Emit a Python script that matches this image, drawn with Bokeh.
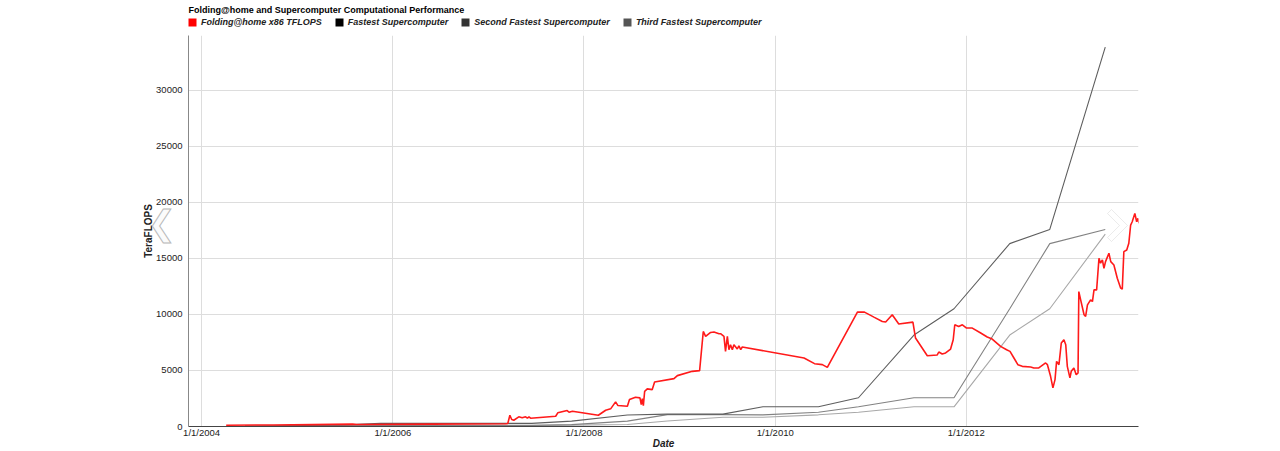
import pandas as pd
from bokeh.plotting import figure
from bokeh.layouts import column
from bokeh.models import Range1d, FixedTicker, Legend, LegendItem, PolyAnnotation, Label
from bokeh.embed import file_html
from bokeh.resources import INLINE

# ---------------- data ----------------
fah_dates = [
    "2004-04-04", "2004-10-01", "2005-03-01", "2005-07-31", "2005-08-15", "2006-06-01",
    "2007-03-08", "2007-03-16", "2007-03-24", "2007-03-31", "2007-04-08", "2007-04-27",
    "2007-05-10", "2007-05-23", "2007-05-30", "2007-06-05", "2007-06-11", "2007-09-15",
    "2007-09-23", "2007-10-29", "2007-11-05", "2007-11-18", "2008-02-25", "2008-03-24",
    "2008-04-12", "2008-05-01", "2008-05-10", "2008-06-15", "2008-06-23", "2008-07-16",
    "2008-08-02", "2008-08-07", "2008-08-11", "2008-08-15", "2008-08-20", "2008-08-30",
    "2008-09-18", "2008-09-27", "2008-12-10", "2008-12-23", "2009-02-18", "2009-03-18",
    "2009-04-01", "2009-04-10", "2009-04-29", "2009-05-12", "2009-05-31", "2009-06-06",
    "2009-06-19", "2009-06-25", "2009-07-02", "2009-07-08", "2009-07-14", "2009-07-21",
    "2009-07-27", "2009-08-09", "2009-08-15", "2009-08-22", "2009-08-28", "2010-04-21",
    "2010-05-31", "2010-06-30", "2010-07-19", "2010-11-11", "2010-12-08", "2011-01-13",
    "2011-02-14", "2011-02-27", "2011-03-24", "2011-04-18", "2011-06-11", "2011-06-21",
    "2011-08-05", "2011-09-12", "2011-09-18", "2011-10-01", "2011-10-14", "2011-11-02",
    "2011-11-12", "2011-11-18", "2011-12-03", "2011-12-17", "2012-01-02", "2012-01-24",
    "2012-02-25", "2012-03-21", "2012-04-09", "2012-05-11", "2012-06-03", "2012-06-16",
    "2012-07-01", "2012-07-16", "2012-08-02", "2012-09-03", "2012-09-15", "2012-10-04",
    "2012-10-30", "2012-11-06", "2012-11-18", "2012-11-27", "2012-12-05", "2012-12-11",
    "2012-12-20", "2012-12-29", "2013-01-08", "2013-01-15", "2013-01-21", "2013-01-31",
    "2013-02-05", "2013-02-15", "2013-02-24", "2013-03-03", "2013-03-06", "2013-03-13",
    "2013-03-26", "2013-04-01", "2013-04-08", "2013-04-20", "2013-04-27", "2013-05-03",
    "2013-05-13", "2013-05-22", "2013-05-28", "2013-06-04", "2013-06-10", "2013-06-16",
    "2013-06-29", "2013-07-06", "2013-07-18", "2013-07-31", "2013-08-13", "2013-08-19",
    "2013-08-25", "2013-09-05", "2013-09-13", "2013-09-20", "2013-09-26", "2013-10-06",
    "2013-10-13", "2013-10-18", "2013-10-22",
]
fah_tflops = [
    115, 140, 170, 210, 185, 215,
    245, 267, 1006, 623, 561, 863,
    774, 863, 739, 863, 739, 917,
    1220, 1424, 1273, 1362, 1006, 1451,
    1576, 2199, 1869, 1807, 2404, 2608,
    2555, 1958, 2493, 1869, 3142, 3356,
    3294, 3979, 4273, 4540, 4923, 4985,
    8483, 8038, 8394, 8430, 8279, 8279,
    8038, 6703, 8038, 6855, 7300, 6855,
    7300, 6917, 7210, 6855, 7095, 6116,
    5608, 5519, 5279, 10211, 10211, 9765,
    9374, 9320, 9970, 9142, 9320, 7896,
    6320, 6383, 6650, 6472, 6561, 6917,
    7745, 9080, 8929, 9080, 8786, 8786,
    8341, 7985, 7807, 7148, 6855, 6703,
    6116, 5519, 5368, 5307, 5225, 5225,
    5671, 5519, 4478, 3445, 4184, 5813,
    5519, 7451, 7745, 7300, 5368, 4335,
    4923, 5225, 4629, 4780, 12044, 11306,
    9970, 9819, 10860, 11306, 11154, 12196,
    12196, 15017, 14573, 14866, 14127, 14715,
    15463, 14715, 14421, 13237, 12347, 12258,
    15606, 15756, 16353, 17982, 18276, 19023,
    18276, 18579, 18134,
]

top500_dates = [
    "2004-06-15", "2004-11-15", "2005-06-15", "2005-11-15", "2006-06-15", "2006-11-15",
    "2007-06-15", "2007-11-15", "2008-06-15", "2008-11-15", "2009-06-15", "2009-11-15",
    "2010-06-15", "2010-11-15", "2011-06-15", "2011-11-15", "2012-06-15", "2012-11-15",
    "2013-06-15",
]
fastest_tflops = [35.86, 70.72, 136.8, 280.6, 280.6, 280.6, 280.6, 478.2, 1026, 1105,
                  1105, 1759, 1759, 2566, 8162, 10510, 16324, 17590, 33863]
second_tflops = [19.94, 51.87, 91.29, 91.29, 91.29, 101.4, 101.4, 167.3, 478.2, 1059,
                 1059, 1042, 1271, 1759, 2566, 2566, 10510, 16324, 17590]
third_tflops = [13.88, 35.86, 51.87, 63.39, 75.76, 91.29, 91.29, 126.9, 180.0, 487.0,
                825.5, 831.7, 1042, 1271, 1759, 1759, 8162, 10510, 17173]

series_names = ["Folding@home x86 TFLOPS", "Fastest Supercomputer",
                "Second Fastest Supercomputer", "Third Fastest Supercomputer"]
x_tick_labels = ["1/1/2004", "1/1/2006", "1/1/2008", "1/1/2010", "1/1/2012"]
y_ticks = [0, 5000, 10000, 15000, 20000, 25000, 30000]

FONT = "Liberation Sans"
HEADER_H = 35
NAN = float("nan")

# ---------------- header: title + legend ----------------
head = figure(
    width=1280, height=HEADER_H, x_range=Range1d(0, 1), y_range=Range1d(0, 1),
    x_axis_location=None, y_axis_location=None,
    output_backend="svg", toolbar_location=None,
    min_border_left=0, min_border_right=0, min_border_top=14, min_border_bottom=0,
    title="Folding@home and Supercomputer Computational Performance",
)
head.grid.visible = False
head.outline_line_color = None
head.title.text_font = FONT
head.title.text_font_size = "9px"
head.title.text_font_style = "bold"
head.title.text_color = "#000000"
head.title.align = "left"
head.title.offset = 0
head.title.standoff = 0

swatch_colors = ["#ff0000", "#000000", "#333333", "#555555"]
sw = [head.quad(left=[NAN], right=[NAN], top=[NAN], bottom=[NAN],
                fill_color=c, line_color=None)
      for c in swatch_colors]
legend = Legend(
    items=[LegendItem(label=n, renderers=[r]) for n, r in zip(series_names, sw)],
    orientation="horizontal", location=(-1, 8),
    padding=0, margin=0, spacing=12,
    glyph_width=10, glyph_height=10, label_standoff=4, label_height=10,
    label_text_font=FONT, label_text_font_size="9px",
    label_text_font_style="bold italic", label_text_color="#222222",
    border_line_color=None, background_fill_alpha=0,
)
head.add_layout(legend)

# ---------------- main chart ----------------
p = figure(
    width=1280, height=451 - HEADER_H,
    x_axis_type="datetime",
    x_range=Range1d(pd.Timestamp("2003-11-12"), pd.Timestamp("2013-10-20")),
    y_range=Range1d(0, 34900),
    output_backend="svg", toolbar_location=None,
    min_border_left=188, min_border_right=142, min_border_top=0, min_border_bottom=0,
)
p.outline_line_color = None
p.background_fill_color = "white"
p.border_fill_color = "white"

fah_x = pd.to_datetime(fah_dates)
t5_x = pd.to_datetime(top500_dates)

p.line(t5_x, third_tflops, line_color="#a8a8a8", line_width=1.1)
p.line(t5_x, second_tflops, line_color="#828282", line_width=1.1)
p.line(t5_x, fastest_tflops, line_color="#5e5e5e", line_width=1.1)
p.line(fah_x, fah_tflops, line_color="#ff1a1a", line_width=1.6)

tick_ms = [int(pd.to_datetime(s, format="%m/%d/%Y").value // 10**6) for s in x_tick_labels]
p.xaxis.ticker = FixedTicker(ticks=tick_ms)
p.xaxis.major_label_overrides = {t: s for t, s in zip(tick_ms, x_tick_labels)}
p.yaxis.ticker = FixedTicker(ticks=y_ticks)

for ax in (p.xaxis[0], p.yaxis[0]):
    ax.major_tick_line_color = None
    ax.minor_tick_line_color = None
    ax.major_tick_out = 0
    ax.major_tick_in = 0
    ax.minor_tick_out = 0
    ax.minor_tick_in = 0
    ax.major_label_text_font = FONT
    ax.major_label_text_font_size = "9.5px"
    ax.major_label_text_color = "#222222"
    ax.axis_label_text_font = FONT
    ax.axis_label_text_font_size = "10px"
    ax.axis_label_text_color = "#222222"

p.xaxis.axis_label = "Date"
p.xaxis.axis_label_text_font_style = "bold italic"
p.xaxis.axis_line_color = "#444444"
p.xaxis.major_label_standoff = 0
p.xaxis.axis_label_standoff = -3

p.yaxis.axis_label = "TeraFLOPS"
p.yaxis.axis_label_text_font_style = "bold"
p.yaxis.axis_line_color = "#888888"
p.yaxis.major_label_standoff = 6
p.yaxis.axis_label_standoff = -1

p.xgrid.grid_line_color = "#dddddd"
p.ygrid.grid_line_color = "#dddddd"

# carousel chevrons (decoration, canvas pixels of the main figure)
left_chev = Label(
    x=147, y=187, x_units="canvas", y_units="canvas", text="\u276E",
    text_font="DejaVu Sans", text_font_size="34px", text_align="left",
    text_baseline="middle", text_color="#fbfbfb",
    text_outline_color="#b8b8b8")
p.add_layout(left_chev, "left")

right_chev = PolyAnnotation(
    xs=[1127, 1111, 1107, 1119, 1107, 1111], ys=[190, 174, 178, 190, 202, 206],
    xs_units="canvas", ys_units="canvas",
    fill_color="white", fill_alpha=1, line_color="#bdbdbd", line_width=1)
p.add_layout(right_chev)

layout = column(head, p, spacing=0)
open("out.html", "w").write(file_html(layout, INLINE))
